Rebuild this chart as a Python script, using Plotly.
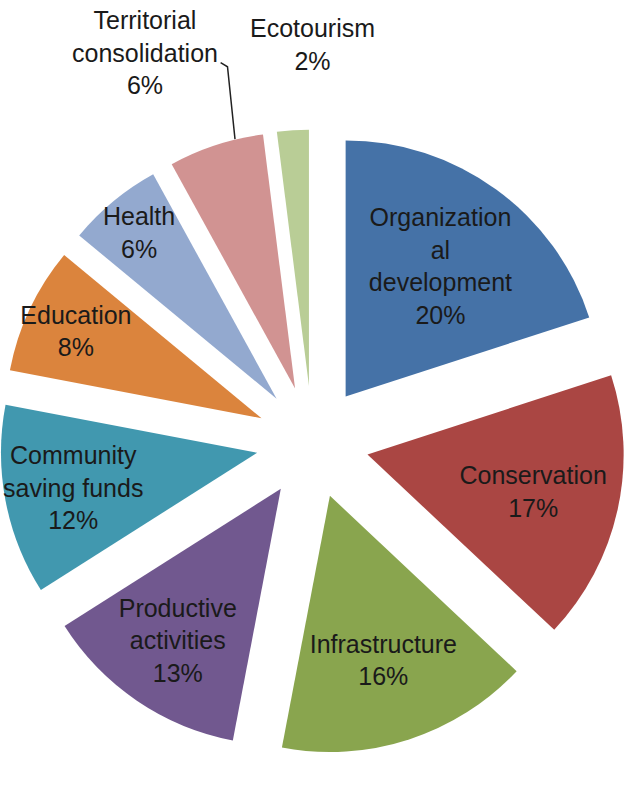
import plotly.graph_objects as go

categories = ["Organizational development", "Conservation", "Infrastructure",
              "Productive activities", "Community saving funds", "Education",
              "Health", "Territorial consolidation", "Ecotourism"]
display_labels = ["Organization<br>al<br>development", "Conservation", "Infrastructure",
                  "Productive<br>activities", "Community<br>saving funds", "Education",
                  "Health", "Territorial<br>consolidation", "Ecotourism"]
values = [20, 17, 16, 13, 12, 8, 6, 6, 2]
colors = ["#4572A7", "#AA4643", "#89A54E", "#71588F", "#4198AF",
          "#DB843D", "#93A9CF", "#D19392", "#B9CD96"]
# the two small slices get their labels outside the pie (as annotations)
inside_label = [True] * 7 + [False, False]

FONT = "Liberation Sans, Arial, sans-serif"
TXT = "#1a1a1a"

total = sum(values)
texts = [f"{lab}<br>{round(100 * v / total)}%" if ins else ""
         for lab, v, ins in zip(display_labels, values, inside_label)]

fig = go.Figure(go.Pie(
    labels=categories,
    values=values,
    text=texts,
    textinfo="text",
    textposition=["inside" if ins else "none" for ins in inside_label],
    insidetextorientation="horizontal",
    sort=False,
    direction="clockwise",
    rotation=0,
    pull=[0.22] * len(values),
    marker=dict(colors=colors, line=dict(width=0)),
    textfont=dict(family=FONT, size=25, color=TXT),
    showlegend=False,
    hoverinfo="label+percent",
    domain=dict(x=[0, 1], y=[0.05, 0.85]),
))

# outside labels for the two smallest slices
outside = [(7, 0.232, 0.935), (8, 0.5, 0.945)]
for i, xp, yp in outside:
    fig.add_annotation(
        x=xp, y=yp, xref="paper", yref="paper",
        text=f"{display_labels[i]}<br>{round(100 * values[i] / total)}%",
        showarrow=False, font=dict(family=FONT, size=25, color=TXT),
        xanchor="center", yanchor="middle",
    )

# leader line for "Territorial consolidation"
fig.add_shape(
    type="path", xref="paper", yref="paper",
    path="M 0.353 0.922 L 0.364 0.917 L 0.376 0.827",
    line=dict(color="#222222", width=1.5),
)

fig.update_layout(
    width=625, height=804,
    margin=dict(l=0, r=0, t=0, b=0),
    paper_bgcolor="white",
    plot_bgcolor="white",
    uniformtext=dict(minsize=25, mode="show"),
)

fig.write_html("out.html")
